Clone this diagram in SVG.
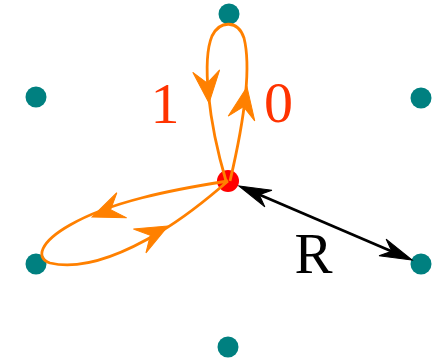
<svg xmlns="http://www.w3.org/2000/svg" width="433" height="360" viewBox="0 0 433 360">
<style>
.site{fill:#008080;}
.center{fill:#ff0000;}
.loop{fill:none;stroke:#ff8000;stroke-width:2.8;}
.oh{fill:#ff8000;stroke:#ff8000;stroke-width:1;}
.bl{fill:none;stroke:#000;stroke-width:2.8;}
.bh{fill:#000;stroke:#000;stroke-width:1;}
.num{font-family:"Liberation Serif",serif;font-size:58px;fill:#ff3300;text-anchor:middle;}
.lab{font-family:"Liberation Serif",serif;font-size:57px;fill:#000;text-anchor:middle;}
</style>
<rect width="433" height="360" fill="#fff"/>
<g id="n-top"><circle class="site" cx="229" cy="14" r="10.5"/></g>
<g id="n-ul"><circle class="site" cx="36" cy="97" r="10.5"/></g>
<g id="n-ur"><circle class="site" cx="421" cy="98" r="10.5"/></g>
<g id="n-ll"><circle class="site" cx="36" cy="264" r="10.5"/></g>
<g id="n-lr"><circle class="site" cx="421" cy="264" r="10.5"/></g>
<g id="n-bot"><circle class="site" cx="228" cy="347" r="10.5"/></g>
<g id="n-center"><circle class="center" cx="228" cy="181" r="11"/></g>
<g id="connectors">
<path class="loop" d="M226,181 C208,120 202,60 212,36 C220,20 238,20 244,38 C252,70 242,130 230,181"/>
<path class="loop" d="M228,181 C170,190 110,202 70,225 C40,242 35,258 50,263 C80,270 120,256 160,232 C190,214 212,195 228,181"/>
<path class="oh" d="M0,0 L-32,-13.5 L-20,0 L-32,13.5 Z" transform="translate(209,103) rotate(85)"/>
<path class="oh" d="M0,0 L-32,-13.5 L-20,0 L-32,13.5 Z" transform="translate(247,87) rotate(-80)"/>
<path class="oh" d="M0,0 L-32,-13.5 L-20,0 L-32,13.5 Z" transform="translate(92,217) rotate(158.5)"/>
<path class="oh" d="M0,0 L-32,-13.5 L-20,0 L-32,13.5 Z" transform="translate(168,226) rotate(-27.7)"/>
<path class="bl" d="M252,191.5 L399,254.5"/>
<path class="bh" d="M0,0 L-32,-9 L-22,0 L-32,9 Z" transform="translate(239,186) rotate(203.16)"/>
<path class="bh" d="M0,0 L-32,-9 L-22,0 L-32,9 Z" transform="translate(412,260) rotate(23.16)"/>
</g>
<text class="num" x="165" y="123">1</text>
<text class="num" x="278.5" y="122">0</text>
<text class="lab" x="313.5" y="273">R</text>
</svg>
